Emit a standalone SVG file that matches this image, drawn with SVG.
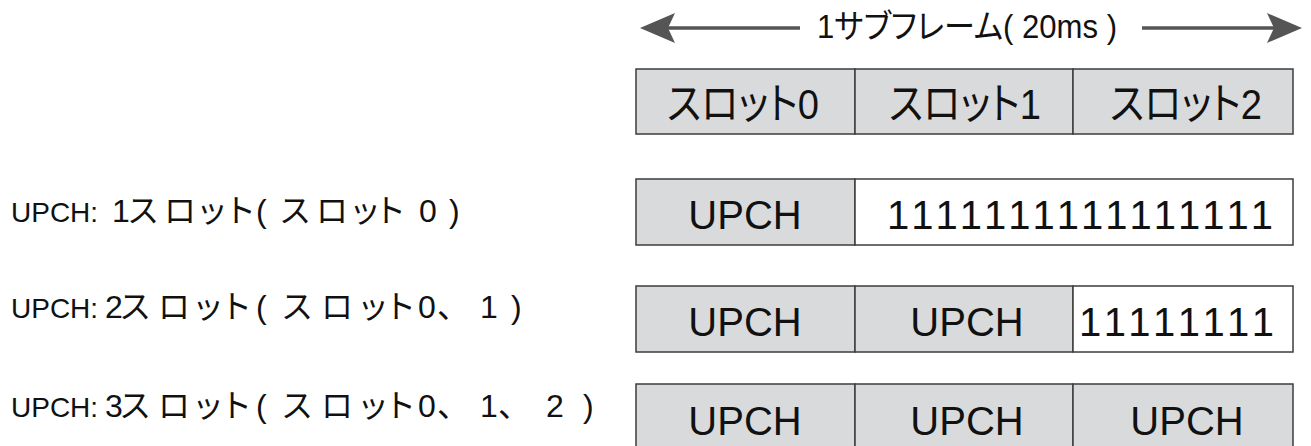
<svg xmlns="http://www.w3.org/2000/svg" width="1311" height="446" viewBox="0 0 1311 446">
<style>
  .t { font-family: "Liberation Sans", "Noto Sans CJK JP", sans-serif; fill: #111; }
  .lbl { font-size: 28px; }
  .kana { font-size: 32px; }
  .c { font-size: 40px; }
  .h { font-size: 43px; }
  .mid { text-anchor: middle; }
  .palt { font-feature-settings: "palt"; }
  .g { fill: #d9dadc; stroke: #3c3c3c; stroke-width: 1.5; }
  .w { fill: #ffffff; stroke: #3c3c3c; stroke-width: 1.5; }
  .arr { stroke: #555555; stroke-width: 3.5; fill: none; }
</style>
<defs>
  <marker id="head" viewBox="0 0 35 30" refX="7" refY="15" markerWidth="35" markerHeight="30" markerUnits="userSpaceOnUse" orient="auto">
    <path d="M35,15 L0,0 L7,15 L0,30 Z" fill="#555555"/>
  </marker>
</defs>
<rect width="1311" height="446" fill="#ffffff"/>

<g id="connectors">
  <line class="arr" x1="800" y1="28" x2="668" y2="28" marker-end="url(#head)"/>
  <line class="arr" x1="1142" y1="28" x2="1274" y2="28" marker-end="url(#head)"/>
</g>

<g id="title">
  <text class="t palt" x="817" y="38" font-size="33" textLength="300" lengthAdjust="spacingAndGlyphs">1サブフレーム( 20ms )</text>
</g>

<g id="header">
  <rect class="g" x="636" y="69" width="219" height="65"/>
  <rect class="g" x="855" y="69" width="218" height="65"/>
  <rect class="g" x="1073" y="69" width="220" height="65"/>
  <text class="t h mid palt" x="743" y="119" textLength="152" lengthAdjust="spacingAndGlyphs">スロット0</text>
  <text class="t h mid palt" x="965" y="119" textLength="152" lengthAdjust="spacingAndGlyphs">スロット1</text>
  <text class="t h mid palt" x="1186" y="119" textLength="152" lengthAdjust="spacingAndGlyphs">スロット2</text>
</g>

<g id="row1">
  <text class="t lbl" y="222"><tspan x="11">UPCH: </tspan><tspan class="kana" x="112 127 164 196 224 245 256 268 279 316 349 374 405 419 440 449">1スロット ( スロット 0 )</tspan></text>
  <rect class="g" x="636" y="179" width="219" height="66"/>
  <rect class="w" x="855" y="179" width="438" height="66"/>
  <text class="t c mid" x="745" y="229">UPCH</text>
  <text class="t c" x="887" y="229" textLength="386" lengthAdjust="spacing">1111111111111111</text>
</g>

<g id="row2">
  <text class="t lbl" y="318"><tspan x="11">UPCH: </tspan><tspan class="kana" x="105 119 158 192 220 245 256 268 281 321 357 384 418 437 462 480 500 511">2スロット ( スロット0、 1 )</tspan></text>
  <rect class="g" x="636" y="286" width="219" height="66"/>
  <rect class="g" x="855" y="286" width="218" height="66"/>
  <rect class="w" x="1073" y="286" width="220" height="66"/>
  <text class="t c mid" x="745" y="336">UPCH</text>
  <text class="t c mid" x="967" y="336">UPCH</text>
  <text class="t c" x="1079" y="336" textLength="195" lengthAdjust="spacing">11111111</text>
</g>

<g id="row3">
  <text class="t lbl" y="417"><tspan x="11">UPCH: </tspan><tspan class="kana" x="105 119 158 192 220 245 256 268 281 321 357 384 418 437 462 480 498 530 546 570 583">3スロット ( スロット0、 1、 2 )</tspan></text>
  <rect class="g" x="636" y="384" width="219" height="70"/>
  <rect class="g" x="855" y="384" width="218" height="70"/>
  <rect class="g" x="1073" y="384" width="220" height="70"/>
  <text class="t c mid" x="745" y="435">UPCH</text>
  <text class="t c mid" x="967" y="435">UPCH</text>
  <text class="t c mid" x="1187" y="435">UPCH</text>
</g>
</svg>
